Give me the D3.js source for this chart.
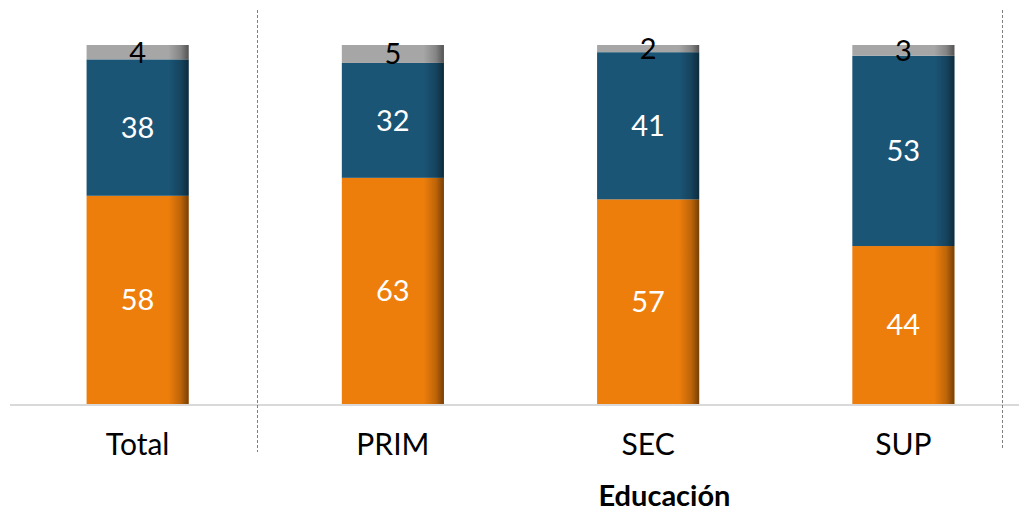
<!DOCTYPE html>
<html>
<head>
<meta charset="utf-8">
<script src="https://cdn.jsdelivr.net/npm/d3@7"></script>
<style>
html,body{margin:0;padding:0;background:#fff;}
svg{display:block;}
</style>
</head>
<body>
<svg id="chart" width="1019" height="511"></svg>
<script>
const categories = ["Total", "PRIM", "SEC", "SUP"];
const serieOrange = [58, 63, 57, 44];
const serieBlue = [38, 32, 41, 53];
const serieGray = [4, 5, 2, 3];
const seriesNames = ["orange", "blue", "gray"];
const seriesColors = {orange: "#EE7E0B", blue: "#1B5576", gray: "#A6A6A6"};
const labelColors = {orange: "#FFFFFF", blue: "#FFFFFF", gray: "#000000"};
const axisTitle = "Educación";

const W = 1019, H = 511;
const svg = d3.select("#chart");

const rows = categories.map((c, i) => ({cat: c, orange: serieOrange[i], blue: serieBlue[i], gray: serieGray[i]}));
const stacked = d3.stack().keys(seriesNames)(rows);

const x = d3.scaleBand().domain(categories).range([10, 1031]).paddingInner(0.6).paddingOuter(0.3);
const y = d3.scaleLinear().domain([0, 100]).range([404, 45]);

const defs = svg.append("defs");
const shade = defs.append("linearGradient").attr("id", "shade").attr("x1", 0).attr("x2", 1).attr("y1", 0).attr("y2", 0);
shade.append("stop").attr("offset", "0%").attr("stop-color", "#000").attr("stop-opacity", 0);
shade.append("stop").attr("offset", "80%").attr("stop-color", "#000").attr("stop-opacity", 0);
shade.append("stop").attr("offset", "92%").attr("stop-color", "#000").attr("stop-opacity", 0.2);
shade.append("stop").attr("offset", "100%").attr("stop-color", "#000").attr("stop-opacity", 0.5);

// axis baseline
svg.append("line").attr("x1", 10).attr("x2", W).attr("y1", 405).attr("y2", 405)
  .attr("stroke", "#D9D9D9").attr("stroke-width", 2);

// separators
const bw = x.bandwidth();
const gapAfter = (i, f) => x(categories[i]) + bw + (x.step() - bw) * f;
const seps = [{pos: gapAfter(0, 0.445), y2: 452}, {pos: gapAfter(3, 0.31), y2: 450}];
svg.selectAll("line.sep").data(seps).join("line").attr("class", "sep")
  .attr("x1", d => Math.round(d.pos) + 0.5).attr("x2", d => Math.round(d.pos) + 0.5)
  .attr("y1", 10).attr("y2", d => d.y2)
  .attr("stroke", "#7F7F7F").attr("stroke-width", 1).attr("stroke-dasharray", "3,2");

// bars
const layers = svg.selectAll("g.layer").data(stacked).join("g").attr("class", "layer");
layers.selectAll("rect.seg").data(d => d.map(p => ({p, key: d.key}))).join("rect").attr("class", "seg")
  .attr("x", d => x(d.p.data.cat)).attr("width", bw)
  .attr("y", d => y(d.p[1])).attr("height", d => y(d.p[0]) - y(d.p[1]))
  .attr("fill", d => seriesColors[d.key]);
layers.selectAll("rect.shade").data(d => d.map(p => ({p, key: d.key}))).join("rect").attr("class", "shade")
  .attr("x", d => x(d.p.data.cat)).attr("width", bw)
  .attr("y", d => y(d.p[1])).attr("height", d => y(d.p[0]) - y(d.p[1]))
  .attr("fill", "url(#shade)");

// data labels
const lbl = svg.append("g");
stacked.forEach(layer => {
  layer.forEach(p => {
    const v = p[1] - p[0];
    lbl.append("text")
      .attr("x", x(p.data.cat) + bw / 2)
      .attr("y", (y(p[0]) + y(p[1])) / 2)
      .attr("dy", "0.36em")
      .attr("text-anchor", "middle")
      .attr("font-family", "Lato, 'Open Sans', sans-serif")
      .attr("font-size", 29)
      .attr("fill", labelColors[layer.key])
      .text(v);
  });
});

// category labels
svg.append("g").selectAll("text").data(categories).join("text")
  .attr("x", d => x(d) + bw / 2).attr("y", 455)
  .attr("text-anchor", "middle")
  .attr("font-family", "Lato, 'Open Sans', sans-serif")
  .attr("font-size", 30).attr("fill", "#000")
  .text(d => d);

// axis title
svg.append("text")
  .attr("x", x("SEC") + bw * 0.66).attr("y", 506)
  .attr("text-anchor", "middle")
  .attr("font-family", "Lato, 'Open Sans', sans-serif")
  .attr("font-weight", "bold")
  .attr("font-size", 29).attr("fill", "#000")
  .text(axisTitle);
</script>
</body>
</html>
